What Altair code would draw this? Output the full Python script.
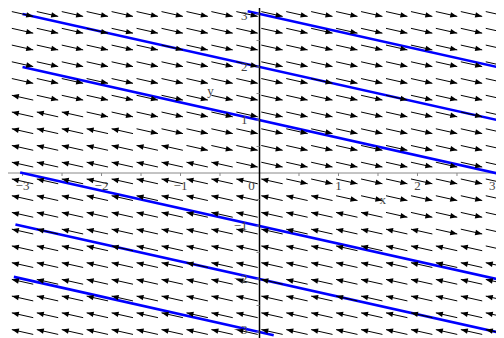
import altair as alt
import pandas as pd

# grid of the direction field (20 x 20, from -3 to 3)
grid_vals = [-3.0, -2.684, -2.368, -2.053, -1.737, -1.421, -1.105, -0.789, -0.474, -0.158,
             0.158, 0.474, 0.789, 1.105, 1.421, 1.737, 2.053, 2.368, 2.684, 3.0]
# number of left-pointing arrows in each row (row 0 = y=-3, going up)
left_counts = [20, 20, 20, 20, 20, 19, 17, 15, 13, 11, 9, 7, 5, 3, 1, 0, 0, 0, 0, 0]

# solution curves (straight lines) start/end points
line_id = ["c9", "c6", "c3", "cm3", "cm6", "cm9"]
line_x0 = [-0.15, -3.0, -3.0, -3.03, -3.09, -3.11]
line_y0 = [3.05, 3.0, 2.0, 0.01, -0.97, -1.96]
line_x1 = [3.04, 3.04, 3.02, 3.0, 3.0, 0.18]
line_y1 = [1.99, 0.99, -0.01, -2.0, -3.0, -3.06]

x_tick_vals = [-3, -2, -1, 1, 2]
x_tick_text = ["\u22123", "\u22122", "\u22121", "1", "2"]
y_tick_vals = [2, 1, -1, -2]
y_tick_text = ["2", "1", "\u22121", "\u22122"]
y_end_vals = [3, -3]
y_end_text = ["3", "\u22123"]
y_end_shift = [2, -2]
half_ticks = [-3, -2.5, -2, -1.5, -1, -0.5, 0.5, 1, 1.5, 2, 2.5, 3]

XMIN, XMAX = -3.184, 2.994
YMIN, YMAX = -3.113, 3.113


def X(field="x"):
    return alt.X(field, type="quantitative",
                 scale=alt.Scale(domain=[XMIN, XMAX], nice=False, zero=False), axis=None)


def Y(field="y"):
    return alt.Y(field, type="quantitative",
                 scale=alt.Scale(domain=[YMIN, YMAX], nice=False, zero=False), axis=None)


rows = []
for j, yv in enumerate(grid_vals):
    for i, xv in enumerate(grid_vals):
        rows.append({"x": xv, "y": yv, "dir": "left" if i < left_counts[j] else "right"})
field = pd.DataFrame(rows)
right_df = field[field["dir"] == "right"].reset_index(drop=True)
left_df = field[field["dir"] == "left"].reset_index(drop=True)

lines = []
for k in range(len(line_id)):
    lines.append({"id": line_id[k], "x": line_x0[k], "y": line_y0[k], "o": 0})
    lines.append({"id": line_id[k], "x": line_x1[k], "y": line_y1[k], "o": 1})
lines_df = pd.DataFrame(lines)

HX, HY = 10.7, 2.4
head_path = "M0,0L-2,-0.8L-2,0.8Z"
LABEL = dict(font="Liberation Serif", fontSize=13, color="#444444")

x_axis = alt.Chart(pd.DataFrame({"x": [XMIN], "x2": [XMAX], "y": [0]})).mark_rule(
    color="#888888", strokeWidth=1).encode(x=X(), x2="x2", y=Y())
y_axis = alt.Chart(pd.DataFrame({"x": [0], "y": [YMIN], "y2": [YMAX]})).mark_rule(
    color="black", strokeWidth=1.5).encode(x=X(), y=Y(), y2="y2")

xt = alt.Chart(pd.DataFrame({"x": half_ticks, "y": [0] * len(half_ticks)})).mark_rule(
    color="#888888", strokeWidth=1, y2Offset=3).encode(x=X(), y=Y(), y2="y")
yt = alt.Chart(pd.DataFrame({"y": half_ticks, "x": [0] * len(half_ticks)})).mark_rule(
    color="#888888", strokeWidth=1, xOffset=-3).encode(y=Y(), x=X(), x2="x")

curves = alt.Chart(lines_df).mark_line(color="#0000ff", strokeWidth=2.6).encode(
    x=X(), y=Y(), detail="id:N", order="o:Q")

shafts = alt.Chart(field).mark_rule(
    color="black", strokeWidth=1, xOffset=-HX, x2Offset=HX, yOffset=-HY, y2Offset=HY
).encode(x=X(), x2="x", y=Y(), y2="y")

heads_r = alt.Chart(right_df).mark_point(
    shape=head_path, size=49, filled=True, color="black", opacity=1, strokeWidth=0,
    angle=12.6, xOffset=HX, yOffset=HY).encode(x=X(), y=Y())
heads_l = alt.Chart(left_df).mark_point(
    shape=head_path, size=49, filled=True, color="black", opacity=1, strokeWidth=0,
    angle=192.6, xOffset=-HX, yOffset=-HY).encode(x=X(), y=Y())

xl = alt.Chart(pd.DataFrame({"x": x_tick_vals, "y": [0] * len(x_tick_vals), "t": x_tick_text})).mark_text(
    dy=13, baseline="middle", align="center", **LABEL
).encode(x=X(), y=Y(), text="t:N")
# the last x label sits at the right edge
xl_last = alt.Chart(pd.DataFrame({"x": [3], "y": [0], "t": ["3"]})).mark_text(
    dy=13, dx=-1, baseline="middle", align="right", **LABEL
).encode(x=X(), y=Y(), text="t:N")
zero = alt.Chart(pd.DataFrame({"x": [0], "y": [0], "t": ["0"]})).mark_text(
    dy=13, dx=-8, baseline="middle", align="center", **LABEL
).encode(x=X(), y=Y(), text="t:N")
yl = alt.Chart(pd.DataFrame({"y": y_tick_vals, "x": [0] * len(y_tick_vals), "t": y_tick_text})).mark_text(
    dx=-12, baseline="middle", align="right", **LABEL
).encode(y=Y(), x=X(), text="t:N")
yl_top = alt.Chart(pd.DataFrame({"y": [y_end_vals[0]], "x": [0], "t": [y_end_text[0]]})).mark_text(
    dx=-12, dy=y_end_shift[0], baseline="middle", align="right", **LABEL
).encode(y=Y(), x=X(), text="t:N")
yl_bot = alt.Chart(pd.DataFrame({"y": [y_end_vals[1]], "x": [0], "t": [y_end_text[1]]})).mark_text(
    dx=-12, dy=y_end_shift[1], baseline="middle", align="right", **LABEL
).encode(y=Y(), x=X(), text="t:N")

titles = alt.Chart(pd.DataFrame({"x": [1.56, -0.62], "y": [-0.51, 1.55], "t": ["x", "y"]})).mark_text(
    baseline="middle", align="center", **LABEL
).encode(x=X(), y=Y(), text="t:N")

chart = alt.layer(
    x_axis, xt, curves, shafts, heads_r, heads_l, y_axis, yt,
    xl, xl_last, zero, yl, yl_top, yl_bot, titles
).properties(
    width=488, height=330, autosize=alt.AutoSizeParams(type="none"), padding=0,
    background="white"
).configure_view(stroke=None)

chart.save("out.html", embed_options={"renderer": "svg", "actions": False})
